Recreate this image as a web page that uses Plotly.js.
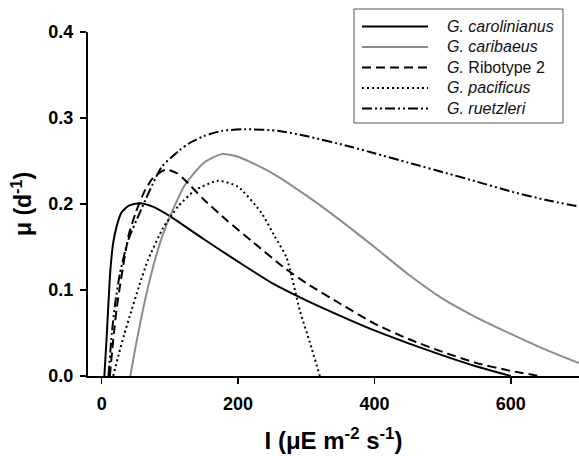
<!DOCTYPE html>
<html>
<head>
<meta charset="utf-8">
<script src="https://cdn.plot.ly/plotly-3.0.1.min.js"></script>
<style>html,body{margin:0;padding:0;background:#fff;}#chart{width:579px;height:456px;}</style>
</head>
<body>
<div id="chart"></div>
<script>
// Data (I in µE m-2 s-1, mu in d-1)
const seriesNames = ["<i>G. carolinianus</i>", "<i>G. caribaeus</i>", "<i>G.</i> Ribotype 2", "<i>G. pacificus</i>", "<i>G. ruetzleri</i>"];

const carolinianusI  = [4, 7, 10, 13, 17, 22, 29, 40, 56, 75, 100, 150, 200, 250, 300, 350, 400, 450, 500, 550, 600];
const carolinianusMu = [0, 0.04, 0.085, 0.125, 0.155, 0.174, 0.19, 0.198, 0.201, 0.197, 0.186, 0.159, 0.133, 0.108, 0.088, 0.07, 0.053, 0.038, 0.024, 0.011, 0];

const caribaeusI  = [42, 50, 60, 70, 80, 90, 100, 122, 150, 176, 200, 250, 300, 350, 400, 450, 500, 550, 600, 650, 700];
const caribaeusMu = [0, 0.035, 0.075, 0.11, 0.14, 0.165, 0.185, 0.222, 0.248, 0.258, 0.255, 0.236, 0.21, 0.181, 0.15, 0.118, 0.09, 0.068, 0.049, 0.031, 0.015];

const ribotypeI  = [12, 18, 22, 27, 33, 40, 50, 63, 75, 88, 95, 110, 122, 150, 185, 220, 266, 300, 350, 400, 450, 500, 550, 600, 642];
const ribotypeMu = [0, 0.05, 0.078, 0.105, 0.135, 0.165, 0.19, 0.215, 0.23, 0.238, 0.24, 0.236, 0.228, 0.205, 0.18, 0.157, 0.127, 0.108, 0.084, 0.061, 0.043, 0.028, 0.015, 0.006, 0];

const pacificusI  = [17, 25, 33, 41, 55, 68, 90, 112, 137, 171, 200, 234, 254, 271, 291, 305, 320];
const pacificusMu = [0, 0.025, 0.048, 0.069, 0.105, 0.135, 0.172, 0.197, 0.216, 0.227, 0.22, 0.19, 0.162, 0.138, 0.075, 0.04, 0];

const ruetzleriI  = [10, 15, 20, 27, 39, 56, 88, 115, 127, 150, 176, 210, 260, 300, 368, 400, 450, 505, 550, 603, 650, 700];
const ruetzleriMu = [0, 0.05, 0.085, 0.12, 0.158, 0.19, 0.243, 0.263, 0.27, 0.279, 0.285, 0.287, 0.285, 0.279, 0.266, 0.259, 0.248, 0.236, 0.226, 0.214, 0.205, 0.197];

const xTickVals = [0, 200, 400, 600];
const yTickVals = [0.0, 0.1, 0.2, 0.3, 0.4];

const FONT = "Liberation Sans, Arial, Helvetica, sans-serif";
const styles = [
  {color: "#000000", dash: "solid"},
  {color: "#8c8c8c", dash: "solid"},
  {color: "#000000", dash: "9px,5px"},
  {color: "#000000", dash: "2px,3px"},
  {color: "#000000", dash: "10px,3px,2px,3px,2px,3px"}
];

function tr(x, y, i) {
  return {x: x, y: y, name: seriesNames[i], type: "scatter", mode: "lines", showlegend: false,
          line: {color: styles[i].color, dash: styles[i].dash, width: 2, shape: "spline", smoothing: 0.6}};
}

const data = [
  tr(carolinianusI, carolinianusMu, 0),
  tr(caribaeusI, caribaeusMu, 1),
  tr(ribotypeI, ribotypeMu, 2),
  tr(pacificusI, pacificusMu, 3),
  tr(ruetzleriI, ruetzleriMu, 4)
];

// Legend drawn as a boxed key (layout positions in pixels, converted to paper coordinates)
const M = {l: 88, r: 0, t: 32, b: 80};
const W = 579, H = 456;
const PW = W - M.l - M.r, PH = H - M.t - M.b;
const px2x = p => (p - M.l) / PW;
const px2y = p => (H - M.b - p) / PH;
const rowY = [26.5, 47, 67.5, 88, 108.5];

const shapes = [{type: "rect", xref: "paper", yref: "paper", x0: px2x(354), x1: px2x(563), y0: px2y(9), y1: px2y(123),
                 line: {color: "#555555", width: 1}, fillcolor: "#ffffff", layer: "above"}];
const annotations = [];
seriesNames.forEach((n, i) => {
  shapes.push({type: "line", xref: "paper", yref: "paper", x0: px2x(362), x1: px2x(428), y0: px2y(rowY[i]), y1: px2y(rowY[i]),
               line: {color: styles[i].color, dash: styles[i].dash, width: 2}, layer: "above"});
  annotations.push({xref: "paper", yref: "paper", x: px2x(445), y: px2y(rowY[i]), xanchor: "left", yanchor: "middle",
                    text: n, showarrow: false, font: {family: FONT, size: 16, color: "#111"}});
});

const layout = {
  width: W, height: H,
  margin: M,
  paper_bgcolor: "#ffffff", plot_bgcolor: "#ffffff",
  showlegend: false,
  font: {family: FONT, color: "#000"},
  xaxis: {
    range: [-20, 700], tickvals: xTickVals, ticks: "outside", ticklen: 6, tickwidth: 1.5, tickcolor: "#000",
    showline: true, linewidth: 2, linecolor: "#000", showgrid: false, zeroline: false,
    ticklabelstandoff: 4,
    tickfont: {family: FONT, size: 18, weight: "bold", color: "#000"},
    title: {text: "I (μE m<sup>-2</sup> s<sup>-1</sup>)", font: {family: FONT, size: 24, weight: "bold", color: "#000"}, standoff: 20}
  },
  yaxis: {
    range: [0, 0.4], tickvals: yTickVals, tickformat: ".1f", ticks: "outside", ticklen: 6, tickwidth: 1.5, tickcolor: "#000",
    showline: true, linewidth: 2, linecolor: "#000", showgrid: false, zeroline: false,
    ticklabelstandoff: 3,
    tickfont: {family: FONT, size: 18, weight: "bold", color: "#000"},
    title: {text: "μ (d<sup>-1</sup>)", font: {family: FONT, size: 23, weight: "bold", color: "#000"}, standoff: 10}
  },
  shapes: shapes,
  annotations: annotations
};

Plotly.newPlot("chart", data, layout, {displayModeBar: false, staticPlot: true});
</script>
</body>
</html>
